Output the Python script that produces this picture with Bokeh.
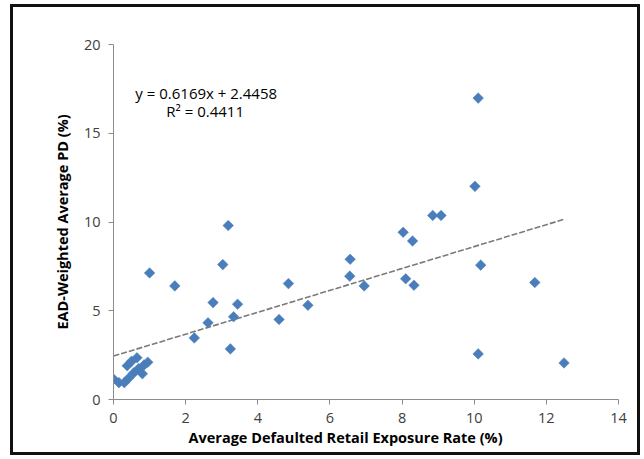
import math
from bokeh.plotting import figure
from bokeh.models import Label, FixedTicker, Title
from bokeh.embed import file_html
from bokeh.resources import INLINE

# ---- data ----
default_rate = [0.0, 0.15, 0.3, 0.42, 0.38, 0.5, 0.56, 0.65, 0.7, 0.8, 0.85, 0.95,
                1.0, 1.7, 2.24, 2.62, 2.76, 3.03, 3.18, 3.24, 3.33, 3.44, 4.59, 4.85,
                5.39, 6.56, 6.55, 6.95, 8.03, 8.1, 8.29, 8.33, 8.85, 9.08, 10.02,
                10.11, 10.18, 10.11, 11.68, 12.49]
weighted_pd = [1.15, 0.95, 0.95, 1.2, 1.9, 2.15, 1.5, 2.35, 1.75, 1.45, 1.95, 2.1,
               7.13, 6.4, 3.47, 4.32, 5.46, 7.6, 9.8, 2.85, 4.66, 5.37, 4.51, 6.53,
               5.31, 7.9, 6.95, 6.4, 9.42, 6.8, 8.93, 6.44, 10.37, 10.37, 12.01,
               16.98, 7.57, 2.57, 6.59, 2.06]
slope = 0.6169
intercept = 2.4458
r_squared = 0.4411
x_ticks = [0, 2, 4, 6, 8, 10, 12, 14]
y_ticks = [0, 5, 10, 15, 20]
x_title = "Average Defaulted Retail Exposure Rate (%)"
y_title = "EAD-Weighted Average PD (%)"

FONT = "Open Sans"

p = figure(width=630, height=451, output_backend="svg", toolbar_location=None,
           x_range=(0, 14), y_range=(0, 20),
           min_border_left=100, min_border_right=25, min_border_top=37, min_border_bottom=59)
p.styles = {"border": "3px solid #111111", "box-sizing": "border-box",
            "margin-left": "10px", "margin-top": "4px"}
p.outline_line_color = None
p.xgrid.visible = False
p.ygrid.visible = False
p.background_fill_color = "white"
p.border_fill_color = "white"

for ax, ticks in ((p.xaxis[0], x_ticks), (p.yaxis[0], y_ticks)):
    ax.ticker = FixedTicker(ticks=ticks)
    ax.axis_line_color = "#8c8c8c"
    ax.major_tick_line_color = "#8c8c8c"
    ax.major_tick_in = 0
    ax.major_tick_out = 5
    ax.minor_tick_line_color = None
    ax.major_label_text_font = FONT
    ax.major_label_text_font_size = "14.5px"
    ax.major_label_text_color = "#404040"
    ax.axis_label_text_font = FONT
    ax.axis_label_text_font_style = "bold"
    ax.axis_label_text_font_size = "14.5px"
    ax.axis_label_text_color = "#000000"

p.yaxis.axis_label = y_title
p.xaxis.major_label_standoff = 8
p.yaxis.major_label_standoff = 8
p.yaxis.axis_label_standoff = 9

# x-axis title, placed left of centre as in the reference
xt = Title(text=x_title, align="left", offset=75, text_font=FONT,
           text_font_size="14.5px", text_font_style="bold", text_color="#000000",
           standoff=0)
p.add_layout(xt, "below")

# trendline from the regression coefficients over the data range
x0, x1 = min(default_rate), max(default_rate)
p.line([x0, x1], [slope * x0 + intercept, slope * x1 + intercept],
       line_color="#7a7a7a", line_width=1.6, line_dash="6 2")

p.scatter(default_rate, weighted_pd, marker="square", size=7.5, angle=math.pi / 4,
          fill_color="#4A7EBB", line_color="#4A7EBB", line_width=0.5)

eq = Label(x=2.57, y=17.29, text=f"y = {slope}x + {intercept}", text_font=FONT,
           text_font_size="15px", text_align="center", text_baseline="middle",
           text_color="#000000")
r2 = Label(x=2.54, y=16.23, text=f"R² = {r_squared}", text_font=FONT,
           text_font_size="15px", text_align="center", text_baseline="middle",
           text_color="#000000")
p.add_layout(eq)
p.add_layout(r2)

open("out.html", "w").write(file_html(p, INLINE))
